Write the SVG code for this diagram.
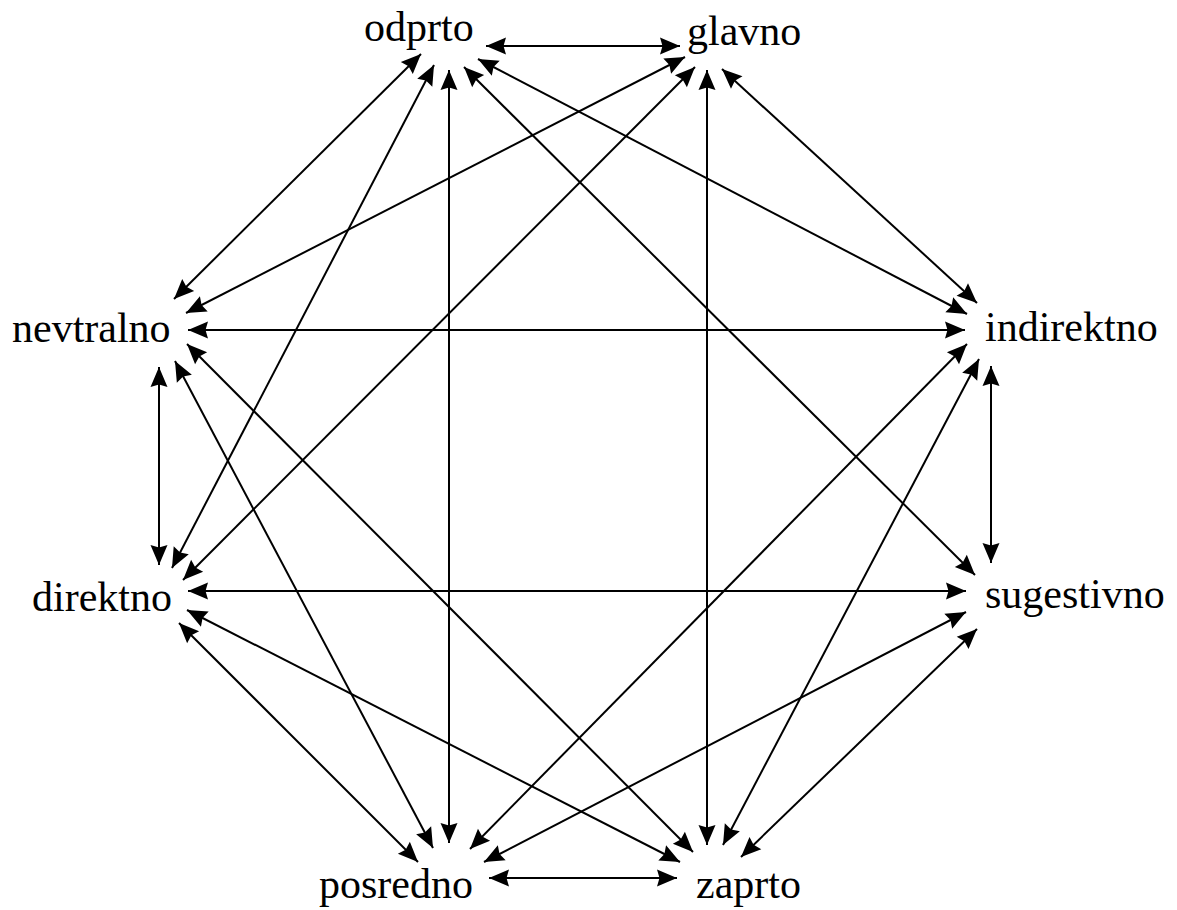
<svg xmlns="http://www.w3.org/2000/svg" width="1177" height="910" viewBox="0 0 1177 910">
<style>
.lbl{font-family:"Liberation Serif","Times New Roman",serif;font-size:42px;fill:#000}
.e line{stroke:#000;stroke-width:2;fill:none;marker-start:url(#ah);marker-end:url(#ah)}
</style>
<defs>
<marker id="ah" markerUnits="userSpaceOnUse" markerWidth="22" markerHeight="19" viewBox="0 0 22 19" refX="21" refY="9.5" orient="auto-start-reverse">
<path d="M1,1 L21,9.5 L1,18 L3.5,9.5 z" fill="#000"/>
</marker>
</defs>
<rect width="1177" height="910" fill="#fff"/>
<g id="connectors" class="e">
<line x1="486" y1="46" x2="680" y2="46"/>
<line x1="421" y1="54" x2="174" y2="299"/>
<line x1="434" y1="65" x2="172" y2="568"/>
<line x1="449" y1="70" x2="449" y2="843"/>
<line x1="464" y1="67" x2="975" y2="575"/>
<line x1="478" y1="59" x2="967" y2="314"/>
<line x1="685" y1="57" x2="186" y2="313"/>
<line x1="695" y1="67" x2="183" y2="580"/>
<line x1="707" y1="70" x2="707" y2="845"/>
<line x1="722" y1="69" x2="977" y2="303"/>
<line x1="188" y1="330" x2="965" y2="330"/>
<line x1="159" y1="367" x2="159" y2="565"/>
<line x1="175" y1="361" x2="433" y2="848"/>
<line x1="187" y1="344" x2="693" y2="852"/>
<line x1="188" y1="591" x2="966" y2="591"/>
<line x1="187" y1="610" x2="680" y2="862"/>
<line x1="179" y1="623" x2="418" y2="862"/>
<line x1="967" y1="344" x2="470" y2="849"/>
<line x1="979" y1="359" x2="723" y2="845"/>
<line x1="991" y1="366" x2="991" y2="563"/>
<line x1="966" y1="612" x2="484" y2="862"/>
<line x1="977" y1="629" x2="741" y2="857"/>
<line x1="489" y1="878" x2="677" y2="878"/>
</g>
<g id="odprto"><text class="lbl" x="364" y="41">odprto</text></g>
<g id="glavno"><text class="lbl" x="687" y="45">glavno</text></g>
<g id="nevtralno"><text class="lbl" x="12" y="342">nevtralno</text></g>
<g id="direktno"><text class="lbl" x="32" y="611">direktno</text></g>
<g id="indirektno"><text class="lbl" x="985" y="341">indirektno</text></g>
<g id="sugestivno"><text class="lbl" x="985" y="608">sugestivno</text></g>
<g id="posredno"><text class="lbl" x="319" y="898">posredno</text></g>
<g id="zaprto"><text class="lbl" x="696" y="898">zaprto</text></g>
</svg>
